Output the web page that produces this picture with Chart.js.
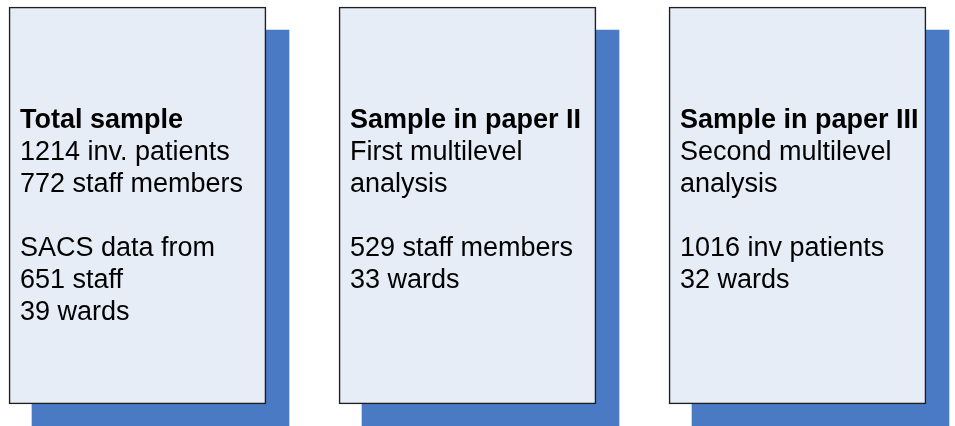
<!DOCTYPE html>
<html>
<head>
<meta charset="utf-8">
<script src="https://cdn.jsdelivr.net/npm/chart.js@4/dist/chart.umd.min.js"></script>
<style>
  html, body { margin: 0; padding: 0; background: #fff; }
  #wrap { width: 955px; height: 426px; position: relative; }
</style>
</head>
<body>
<div id="wrap"><canvas id="diagram"></canvas></div>
<script>
// panels (one box each), box spans [bottom, top] on the value axis
const panelIndex = [0, 1, 2];
const boxSpan = [0, 1];
const headings = ['Total sample', 'Sample in paper II', 'Sample in paper III'];
const detailLines = [
  ['1214 inv. patients', '772 staff members', '', 'SACS data from', '651 staff', '39 wards'],
  ['First multilevel', 'analysis', '', '529 staff members', '33 wards'],
  ['Second multilevel', 'analysis', '', '1016 inv patients', '32 wards']
];

// layout (pixels)
const W = 955, H = 426;
const STEP = 330;          // px between panel centres
const FIRST_CENTER = 137.5;
const BOX_TOP = 7, BOX_BOTTOM = 404;
const SHADOW_DX = 23, SHADOW_DY = 23;

const xMin = -FIRST_CENTER / STEP;
const xMax = xMin + W / STEP;
const unitY = BOX_BOTTOM - BOX_TOP;
const yMin = -(H - BOX_BOTTOM) / unitY;
const yMax = 1 + BOX_TOP / unitY;

const textPlugin = {
  id: 'panelText',
  afterDatasetsDraw(chart) {
    const ctx = chart.ctx;
    const meta = chart.getDatasetMeta(0);
    ctx.save();
    ctx.fillStyle = '#000';
    ctx.textAlign = 'left';
    ctx.textBaseline = 'alphabetic';
    meta.data.forEach((bar, i) => {
      const left = bar.x - bar.width / 2 + 11;
      const top = Math.min(bar.y, bar.base);
      let y = top + 121;
      ctx.font = 'bold 27px "Liberation Sans", Arial, sans-serif';
      ctx.fillText(headings[i], left, y);
      ctx.font = '27px "Liberation Sans", Arial, sans-serif';
      detailLines[i].forEach(line => {
        y += 32;
        if (line) ctx.fillText(line, left, y);
      });
    });
    ctx.restore();
  }
};

new Chart(document.getElementById('diagram').getContext('2d'), {
  type: 'bar',
  data: {
    datasets: [
      {
        label: 'boxes',
        data: panelIndex.map(i => ({ x: i, y: boxSpan })),
        backgroundColor: '#E6EDF7',
        borderColor: '#1E1E1E',
        borderWidth: 1.6,
        borderSkipped: false,
        barThickness: 257,
        order: 1
      },
      {
        label: 'shadow',
        data: panelIndex.map(i => ({ x: i, y: boxSpan })),
        xAxisID: 'x2',
        yAxisID: 'y2',
        backgroundColor: '#4A7AC4',
        borderWidth: 0,
        barThickness: 257,
        order: 2
      }
    ]
  },
  options: {
    responsive: true,
    maintainAspectRatio: false,
    animation: false,
    grouped: false,
    layout: { padding: 0 },
    plugins: { legend: { display: false }, tooltip: { enabled: false } },
    scales: {
      x:  { type: 'linear', display: false, offset: false, min: xMin, max: xMax },
      y:  { type: 'linear', display: false, min: yMin, max: yMax },
      x2: { type: 'linear', display: false, offset: false, min: xMin - SHADOW_DX / STEP, max: xMax - SHADOW_DX / STEP },
      y2: { type: 'linear', display: false, min: yMin + SHADOW_DY / unitY, max: yMax + SHADOW_DY / unitY }
    }
  },
  plugins: [textPlugin]
});
</script>
</body>
</html>
